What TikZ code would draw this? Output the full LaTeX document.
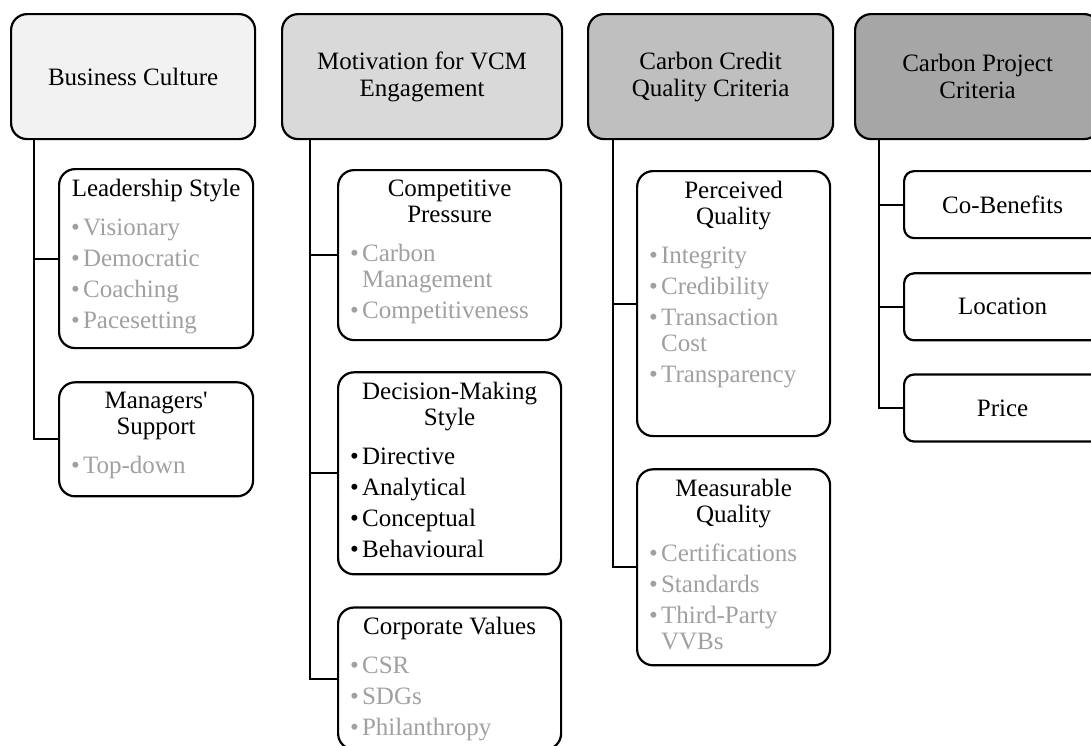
\documentclass[tikz,border=0pt]{standalone}
\usepackage{fontspec}
\setmainfont{Liberation Serif}[Ligatures=TeXOff]
\usepackage{tikz}
\usetikzlibrary{positioning}
\usepackage{xcolor}
\definecolor{headA}{HTML}{F2F2F2}
\definecolor{headB}{HTML}{D9D9D9}
\definecolor{headC}{HTML}{BFBFBF}
\definecolor{headD}{HTML}{A6A6A6}
\definecolor{subtext}{HTML}{A0A0A0}
\newcommand{\Title}[1]{{\centering\setlength{\parskip}{0pt}#1\par}\vspace{4pt}}
\newcommand{\Item}[2][subtext]{\par\hangindent=6pt\hangafter=1\noindent
  {\color{#1}\makebox[6pt][l]{\textbullet}#2}}
\newcommand{\Pane}[3]{\parbox[c][#2][t]{#1}{\raggedright
  \setlength{\parskip}{2.5pt}\vspace*{5pt}#3\par}}

\begin{document}
\begin{tikzpicture}[
  x=0.5pt, y=-0.5pt,
  head/.style={draw, line width=1.1pt, rounded corners=8pt, anchor=north west,
               minimum height=62.5pt, align=center, inner sep=3pt,
               font=\fontsize{12.5}{13.5}\selectfont},
  kid/.style={draw, line width=1.1pt, rounded corners=8pt, anchor=north west,
              inner xsep=6pt, inner ysep=0pt, font=\fontsize{12.5}{13}\selectfont},
  leaf/.style={draw, line width=1.1pt, rounded corners=5pt, anchor=north west,
               minimum width=98.5pt, minimum height=33.5pt,
               font=\fontsize{12.5}{13}\selectfont},
  link/.style={line width=1pt}
]
\useasboundingbox (0,0) rectangle (1091,745);
\clip (0,0) rectangle (1091,745);

% headings
\node[head, fill=headA, minimum width=122pt] (bc) at (10,13) {Business Culture};
\node[head, fill=headB, minimum width=140pt] (mv) at (281,13) {Motivation for VCM\\Engagement};
\node[head, fill=headC, minimum width=122.5pt] (cq) at (587,13) {Carbon Credit\\Quality Criteria};
\node[head, fill=headD, minimum width=122.5pt] (pc) at (854,13) {Carbon Project\\Criteria};

% business culture
\node[kid] (ls) at (58,168) {\Pane{85pt}{89.5pt}{\Title{Leadership Style}
  \Item{Visionary}\Item{Democratic}\Item{Coaching}\Item{Pacesetting}}};
\node[kid, below=16pt of ls] (ms) {\Pane{85pt}{57pt}{\Title{Managers'\\Support}
  \Item{Top-down}}};

% motivation
\node[kid] (cp) at (337,169) {\Pane{99.5pt}{85pt}{\Title{Competitive\\Pressure}
  \Item{Carbon\newline Management}\Item{Competitiveness}}};
\node[kid, below=15pt of cp] (dm) {\Pane{99.5pt}{101pt}{\Title{Decision-Making\\Style}
  \Item[black]{Directive}\Item[black]{Analytical}\Item[black]{Conceptual}\Item[black]{Behavioural}}};
\node[kid, below=15.5pt of dm] (cv) {\Pane{99.5pt}{71pt}{\Title{Corporate Values}
  \Item{CSR}\Item{SDGs}\Item{Philanthropy}}};

% credit quality
\node[kid] (pq) at (636,170) {\Pane{84.5pt}{132.5pt}{\Title{Perceived\\Quality}
  \Item{Integrity}\Item{Credibility}\Item{Transaction\newline Cost}\Item{Transparency}}};
\node[kid, below=15.5pt of pq] (mq) {\Pane{84.5pt}{98pt}{\Title{Measurable\\Quality}
  \Item{Certifications}\Item{Standards}\Item{Third-Party\newline VVBs}}};

% project criteria
\node[leaf] (cb) at (903,170) {Co-Benefits};
\node[leaf, below=16.5pt of cb] (lo) {Location};
\node[leaf, below=16pt of lo] (pr) {Price};

\foreach \k in {ls,ms} \draw[link] ([xshift=12pt]bc.south west) |- (\k.west);
\foreach \k in {cp,dm,cv} \draw[link] ([xshift=14.5pt]mv.south west) |- (\k.west);
\foreach \k in {pq,mq} \draw[link] ([xshift=13pt]cq.south west) |- (\k.west);
\foreach \k in {cb,lo,pr} \draw[link] ([xshift=12.5pt]pc.south west) |- (\k.west);
\end{tikzpicture}
\end{document}
